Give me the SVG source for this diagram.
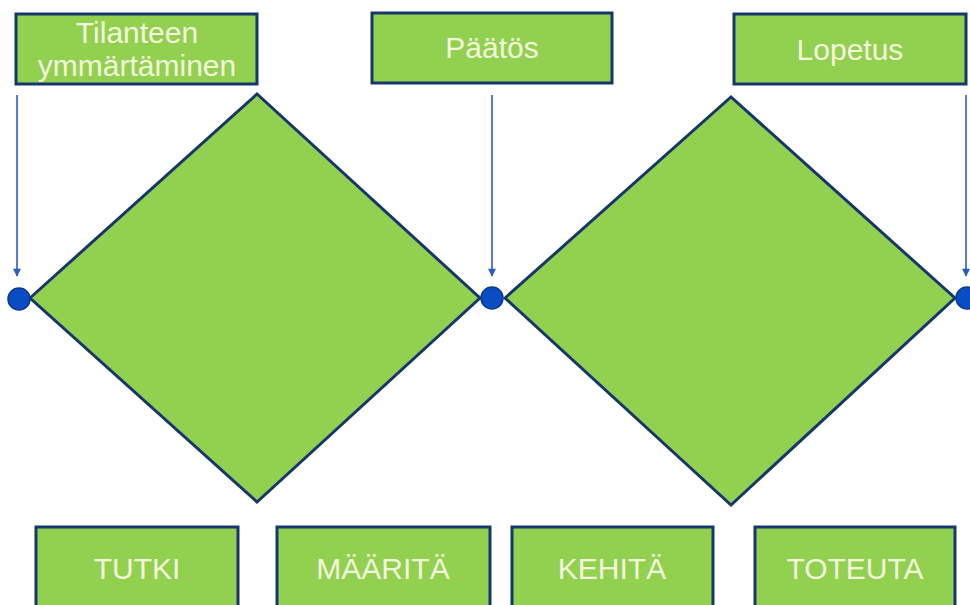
<svg xmlns="http://www.w3.org/2000/svg" width="970" height="605" viewBox="0 0 970 605">
  <defs>
    <style>
      .box { fill: #92D050; stroke: #17366B; stroke-width: 3; }
      .dia { fill: #92D050; stroke: #17366B; stroke-width: 3; stroke-linejoin: miter; }
      .lbl { font-family: "Liberation Sans", Arial, sans-serif; font-size: 30px; fill: #F4F7DE; text-anchor: middle; }
      .dot { fill: #0A4CC4; stroke: #0B3A8C; stroke-width: 1.5; }
      .arrow { stroke: #2A5CC6; stroke-width: 1.6; fill: none; marker-end: url(#head); }
    </style>
    <marker id="head" viewBox="0 0 10 10" refX="9" refY="5" markerWidth="9" markerHeight="8" markerUnits="userSpaceOnUse" orient="auto">
      <path d="M0,0 L10,5 L0,10 z" fill="#2A5CC6"/>
    </marker>
  </defs>
  <rect width="970" height="605" fill="#FFFFFF"/>

  <!-- two phase diamonds -->
  <g id="diamond-1">
    <polygon class="dia" points="30,298 257,94 480,298 257,502"/>
  </g>
  <g id="diamond-2">
    <polygon class="dia" points="505,298 731,97 955,298 731,505"/>
  </g>

  <!-- milestone labels along the top -->
  <g id="node-tilanteen">
    <rect class="box" x="16" y="14" width="241" height="70"/>
    <text class="lbl" x="137" y="43">Tilanteen</text>
    <text class="lbl" x="137" y="76">ymmärtäminen</text>
  </g>
  <g id="node-paatos">
    <rect class="box" x="372" y="13" width="240" height="70"/>
    <text class="lbl" x="492" y="58">Päätös</text>
  </g>
  <g id="node-lopetus">
    <rect class="box" x="734" y="14" width="232" height="70"/>
    <text class="lbl" x="850" y="60">Lopetus</text>
  </g>

  <!-- pointers from milestones down to the junction points -->
  <g id="connectors">
    <line class="arrow" x1="17" y1="95" x2="17" y2="276"/>
    <line class="arrow" x1="492" y1="95" x2="492" y2="276"/>
    <line class="arrow" x1="966" y1="95" x2="966" y2="276"/>
  </g>

  <!-- junction points -->
  <g id="point-1"><circle class="dot" cx="19" cy="299" r="11"/></g>
  <g id="point-2"><circle class="dot" cx="492" cy="298" r="11"/></g>
  <g id="point-3"><circle class="dot" cx="967" cy="298" r="11"/></g>

  <!-- activity labels along the bottom -->
  <g id="node-tutki">
    <rect class="box" x="36" y="527" width="202" height="90"/>
    <text class="lbl" x="137" y="579">TUTKI</text>
  </g>
  <g id="node-maarita">
    <rect class="box" x="277" y="527" width="213" height="90"/>
    <text class="lbl" x="383" y="579">MÄÄRITÄ</text>
  </g>
  <g id="node-kehita">
    <rect class="box" x="512" y="527" width="201" height="90"/>
    <text class="lbl" x="612" y="579">KEHITÄ</text>
  </g>
  <g id="node-toteuta">
    <rect class="box" x="755" y="527" width="200" height="90"/>
    <text class="lbl" x="855" y="579">TOTEUTA</text>
  </g>
</svg>
